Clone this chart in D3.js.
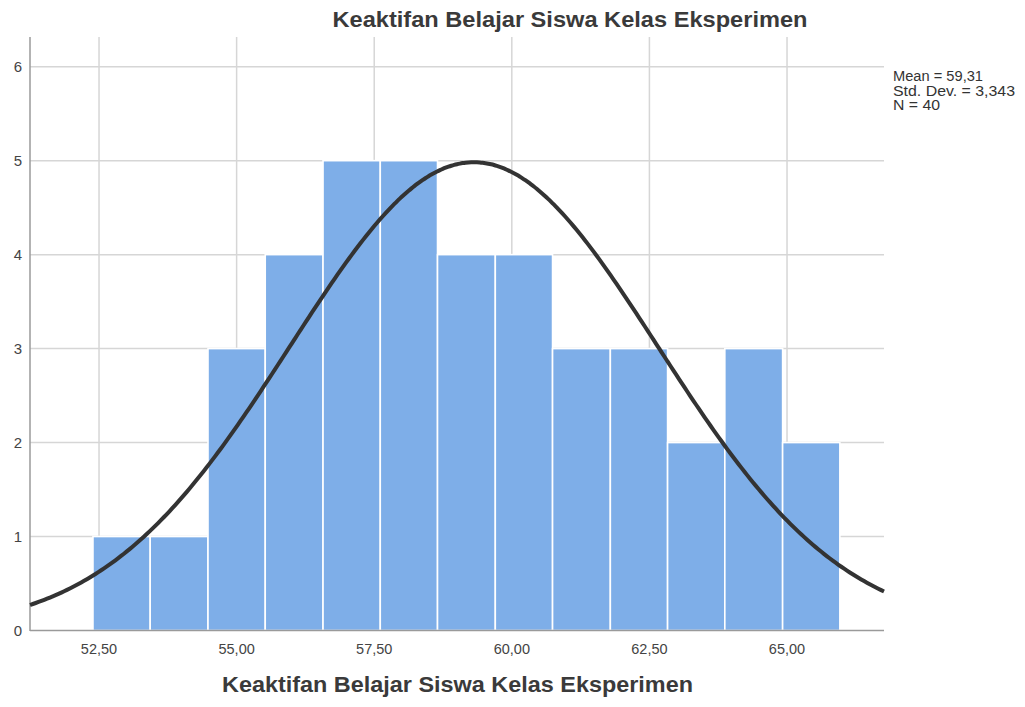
<!DOCTYPE html>
<html><head><meta charset="utf-8">
<script src="https://cdn.jsdelivr.net/npm/d3@7"></script>
<style>body{margin:0;background:#fff}svg{display:block;font-family:"Liberation Sans",Arial,sans-serif}</style>
</head><body>
<svg id="c" width="1025" height="707"></svg>
<script>
const title = "Keaktifan Belajar Siswa Kelas Eksperimen";
const xTitle = "Keaktifan Belajar Siswa Kelas Eksperimen";
const binEdges = [52.39, 53.43, 54.48, 55.52, 56.57, 57.61, 58.65, 59.70, 60.74, 61.79, 62.83, 63.87, 64.92, 65.96];
const counts = [1, 1, 3, 4, 5, 5, 4, 4, 3, 3, 2, 3, 2];
const xTicks = [52.5, 55, 57.5, 60, 62.5, 65];
const yTicks = [0, 1, 2, 3, 4, 5, 6];
const stats = ["Mean = 59,31", "Std. Dev. = 3,343", "N = 40"];
const mean = 59.31, sd = 3.343, n = 40;

const svg = d3.select("#c");
const x = d3.scaleLinear().domain([51.246, 66.762]).range([30, 884]);
const y = d3.scaleLinear().domain([0, 6]).range([630.5, 66.7]);
const fmt = v => d3.format(".2f")(v).replace(".", ",");

// grid
svg.append("g").selectAll("line").data(xTicks).join("line")
  .attr("x1", d => x(d)).attr("x2", d => x(d)).attr("y1", 37).attr("y2", 630)
  .attr("stroke", "#d6d6d6").attr("stroke-width", 1.5);
svg.append("g").selectAll("line").data(yTicks.slice(1)).join("line")
  .attr("x1", 30).attr("x2", 884).attr("y1", d => y(d)).attr("y2", d => y(d))
  .attr("stroke", "#d6d6d6").attr("stroke-width", 1.5);

// bars
const bins = counts.map((c, i) => ({x0: binEdges[i], x1: binEdges[i + 1], c}));
svg.append("g").selectAll("rect").data(bins).join("rect")
  .attr("x", d => x(d.x0)).attr("width", d => x(d.x1) - x(d.x0))
  .attr("y", d => y(d.c)).attr("height", d => y(0) - y(d.c))
  .attr("fill", "#7eaee8").attr("stroke", "#ffffff").attr("stroke-width", 1.6);

// axes lines
svg.append("line").attr("x1", 30).attr("x2", 30).attr("y1", 37).attr("y2", 631)
  .attr("stroke", "#9a9a9a").attr("stroke-width", 1.5);
svg.append("line").attr("x1", 30).attr("x2", 884).attr("y1", 630.5).attr("y2", 630.5)
  .attr("stroke", "#9a9a9a").attr("stroke-width", 1.5);

// normal curve
const dom = x.domain();
const pts = d3.range(0, 301).map(i => dom[0] + (dom[1] - dom[0]) * i / 300);
const pdf = v => n * 1.044 * Math.exp(-0.5 * ((v - mean) / sd) ** 2) / (sd * Math.sqrt(2 * Math.PI));
svg.append("path").datum(pts)
  .attr("d", d3.line().x(d => x(d)).y(d => y(pdf(d))).curve(d3.curveBasis))
  .attr("fill", "none").attr("stroke", "#333333").attr("stroke-width", 4);

// tick labels
svg.append("g").selectAll("text").data(xTicks).join("text")
  .attr("x", d => x(d)).attr("y", 654).attr("text-anchor", "middle")
  .attr("font-size", 14.5).attr("fill", "#444").text(fmt);
svg.append("g").selectAll("text").data(yTicks).join("text")
  .attr("x", 22).attr("y", d => y(d) + 5.5).attr("text-anchor", "end")
  .attr("font-size", 15).attr("fill", "#444").text(d => d);

// titles
svg.append("text").attr("x", 570).attr("y", 27).attr("text-anchor", "middle")
  .attr("font-size", 21.5).attr("font-weight", "bold").attr("fill", "#3a3a3a")
  .attr("textLength", 475).attr("lengthAdjust", "spacingAndGlyphs").text(title);
svg.append("text").attr("x", 457.5).attr("y", 692).attr("text-anchor", "middle")
  .attr("font-size", 21.5).attr("font-weight", "bold").attr("fill", "#3a3a3a")
  .attr("textLength", 471).attr("lengthAdjust", "spacingAndGlyphs").text(xTitle);

// stats
svg.append("g").selectAll("text").data(stats).join("text")
  .attr("x", 893).attr("y", (d, i) => 81 + i * 14.5)
  .attr("font-size", 14).attr("fill", "#333").attr("textLength", (d, i) => [90, 122, 47][i])
  .attr("lengthAdjust", "spacingAndGlyphs").text(d => d);
</script>
</body></html>
